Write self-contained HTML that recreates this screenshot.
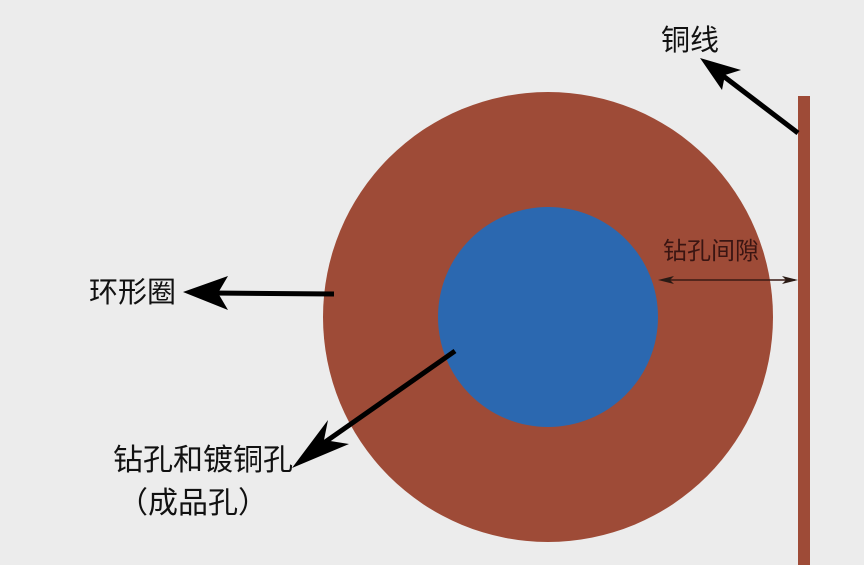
<!DOCTYPE html>
<html><head><meta charset="utf-8"><style>
html,body{margin:0;padding:0;background:#ececec;}
svg{display:block}
text{font-family:"Liberation Sans","Noto Sans CJK SC",sans-serif;}
</style></head><body>
<svg width="864" height="565" viewBox="0 0 864 565" xmlns="http://www.w3.org/2000/svg">
<rect width="864" height="565" fill="#ececec"/>
<circle cx="548" cy="317" r="225" fill="#9e4b37"/>
<circle cx="548" cy="317" r="110" fill="#2b68b0"/>
<rect x="798" y="96" width="12" height="469" fill="#9e4b37"/>
<line x1="798" y1="133" x2="718" y2="72" stroke="#000" stroke-width="5"/>
<polygon points="700,58 741,70 725,75 722,90" fill="#000"/>
<line x1="334" y1="294" x2="212" y2="293" stroke="#000" stroke-width="5"/>
<polygon points="183,292 228,276 218,293 228,310" fill="#000"/>
<line x1="455" y1="351" x2="318" y2="447" stroke="#000" stroke-width="5"/>
<polygon points="292,468 328,420 324,440 349,444" fill="#000"/>
<line x1="662" y1="280" x2="795" y2="280" stroke="#3a1a14" stroke-width="1.5"/>
<polygon points="658,280 674,276 670,280 674,284" fill="#2a1a14"/>
<polygon points="798,280 782,276 786,280 782,284" fill="#2a1a14"/>
<text x="661" y="50" font-size="29" fill="#111">铜线</text>
<text x="663" y="259" font-size="24" fill="#3a1512">钻孔间隙</text>
<text x="89" y="302" font-size="29" fill="#111">环形圈</text>
<text x="113" y="470" font-size="30" fill="#111">钻孔和镀铜孔</text>
<text x="118" y="513" font-size="30" fill="#111">（成品孔）</text>
</svg>
</body></html>
